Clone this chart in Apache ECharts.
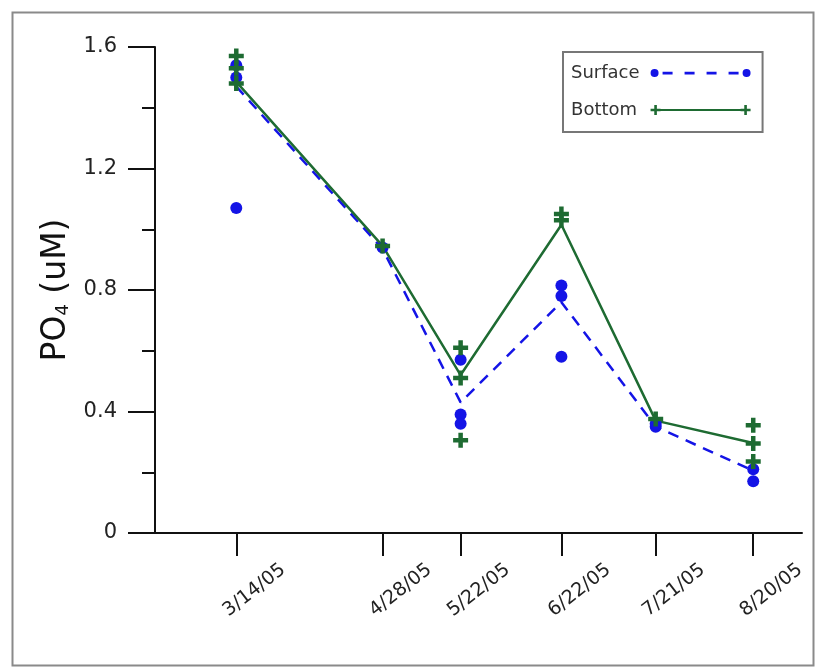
<!DOCTYPE html>
<html>
<head>
<meta charset="utf-8">
<script src="https://cdn.jsdelivr.net/npm/echarts@6/dist/echarts.min.js"></script>
<style>
  html, body { margin: 0; padding: 0; background: #fff; }
  #chart { width: 819px; height: 670px; }
</style>
</head>
<body>
<div id="chart"></div>
<script>
// Sampling dates (month is 1-based here)
const sampleDates = [[2005, 3, 14], [2005, 4, 28], [2005, 5, 22], [2005, 6, 22], [2005, 7, 21], [2005, 8, 20]];
const dateLabels = ['3/14/05', '4/28/05', '5/22/05', '6/22/05', '7/21/05', '8/20/05'];

// PO4 (uM) trend lines
const surfaceLine = [1.47, 0.935, 0.43, 0.76, 0.35, 0.205];
const bottomLine  = [1.485, 0.945, 0.52, 1.015, 0.37, 0.296];

// Individual samples per date
const surfaceSamples = [
  [1.54, 1.50, 1.07],
  [0.94],
  [0.57, 0.39, 0.36],
  [0.815, 0.78, 0.58],
  [0.35, 0.36],
  [0.21, 0.17]
];
const bottomSamples = [
  [1.57, 1.53, 1.48],
  [0.945],
  [0.61, 0.51, 0.305],
  [1.05, 1.03],
  [0.375],
  [0.355, 0.295, 0.235]
];

// Axis range and ticks
const yTicks = [0, 0.4, 0.8, 1.2, 1.6];
const xRange = [[2005, 2, 17], [2005, 9, 4]];

// day number since 2005-01-01 (UTC based, no DST issues)
const DAY = 86400000;
const dayNum = d => Math.round((Date.UTC(d[0], d[1] - 1, d[2]) - Date.UTC(2005, 0, 1)) / DAY);
const days = sampleDates.map(dayNum);

const pairLine = vals => vals.map((v, i) => [days[i], v]);
const pairSamples = groups => {
  const out = [];
  groups.forEach((g, i) => g.forEach(v => out.push([days[i], v])));
  return out;
};

const BLUE = '#1414e6';
const GREEN = '#1e6b32';
const FONT = 'DejaVu Sans, Liberation Sans, sans-serif';

const plusPath = 'path://M3.5,0 h3 v3.5 h3.5 v3 h-3.5 v3.5 h-3 v-3.5 h-3.5 v-3 h3.5 Z';

function circ(cx, cy, r) {
  return 'M' + (cx - r) + ',' + cy + ' a' + r + ',' + r + ' 0 1,0 ' + (2 * r) + ',0 a' + r + ',' + r + ' 0 1,0 ' + (-2 * r) + ',0 Z ';
}
function plus(cx, cy, a, t) {
  const h = t / 2;
  return 'M' + (cx - h) + ',' + (cy - a) + ' h' + t + ' v' + (a - h) + ' h' + (a - h) + ' v' + t +
    ' h' + (-(a - h)) + ' v' + (a - h) + ' h' + (-t) + ' v' + (-(a - h)) + ' h' + (-(a - h)) +
    ' v' + (-t) + ' h' + (a - h) + ' Z ';
}
// legend samples: marker, line, marker
const surfaceIcon = 'path://' + circ(4, 5, 4) +
  'M12,3.8 h10 v2.6 h-10 Z M34,3.8 h10 v2.6 h-10 Z M56,3.8 h10 v2.6 h-10 Z M78,3.8 h10 v2.6 h-10 Z ' +
  circ(96, 5, 4);
const bottomIcon = 'path://' + plus(5, 5, 5, 2.6) + 'M9,4 h82 v2 h-82 Z ' + plus(95, 5, 5, 2.6);

const chart = echarts.init(document.getElementById('chart'), null, { renderer: 'canvas' });

chart.setOption({
  animation: false,
  backgroundColor: '#fff',
  textStyle: { fontFamily: FONT },
  graphic: [{
    type: 'rect',
    left: 10, top: 10,
    shape: { width: 801, height: 653 },
    style: { fill: 'none', stroke: '#8a8a8a', lineWidth: 2 },
    silent: true
  }],
  grid: { left: 155, right: 17, top: 47, bottom: 137 },
  legend: {
    orient: 'vertical',
    left: 563, top: 52,
    align: 'right',
    itemWidth: 100, itemHeight: 10,
    itemGap: 19,
    padding: [12, 12, 13, 8],
    borderColor: '#777', borderWidth: 2,
    textStyle: { fontSize: 18, color: '#333', padding: [0, 6, 0, 0] },
    data: [
      { name: 'Surface', icon: surfaceIcon },
      { name: 'Bottom', icon: bottomIcon, textStyle: { padding: [0, 8.5, 0, 0] } }
    ]
  },
  xAxis: {
    type: 'value',
    min: dayNum(xRange[0]),
    max: dayNum(xRange[1]),
    splitLine: { show: false },
    axisLine: { lineStyle: { color: '#111', width: 2 } },
    axisTick: {
      show: true, length: 23, inside: false,
      customValues: days,
      lineStyle: { color: '#111', width: 2 }
    },
    axisLabel: {
      customValues: days,
      formatter: v => dateLabels[days.indexOf(v)] || '',
      rotate: 38,
      align: 'center',
      verticalAlign: 'top',
      margin: 34,
      padding: [20, 0, 0, 0],
      fontSize: 19,
      color: '#222'
    }
  },
  yAxis: {
    type: 'value',
    min: yTicks[0], max: yTicks[yTicks.length - 1], interval: 0.4,
    splitLine: { show: false },
    axisLine: { show: true, lineStyle: { color: '#111', width: 2 } },
    axisTick: { show: true, length: 27, lineStyle: { color: '#111', width: 2 } },
    minorTick: { show: true, splitNumber: 2, length: 13, lineStyle: { color: '#111', width: 2 } },
    axisLabel: { margin: 38, fontSize: 21, color: '#222' },
    name: '{a|PO}{s|4}{a| (uM)}',
    nameLocation: 'middle',
    nameRotate: 90,
    nameGap: 74,
    nameTextStyle: {
      rich: {
        a: { fontSize: 33, color: '#111' },
        s: { fontSize: 18, color: '#111', verticalAlign: 'bottom', padding: [15, 0, 0, 0] }
      }
    }
  },
  series: [
    {
      name: 'Surface', type: 'line',
      data: pairLine(surfaceLine),
      showSymbol: false, symbol: 'none',
      itemStyle: { color: BLUE },
      lineStyle: { color: BLUE, width: 2.5, type: [11, 8] },
      z: 2
    },
    {
      name: 'Bottom', type: 'line',
      data: pairLine(bottomLine),
      showSymbol: false, symbol: 'none',
      itemStyle: { color: GREEN },
      lineStyle: { color: GREEN, width: 2.5 },
      z: 3
    },
    {
      name: 'Surface', type: 'scatter',
      data: pairSamples(surfaceSamples),
      symbol: 'circle', symbolSize: 12,
      itemStyle: { color: BLUE, opacity: 1 },
      z: 4
    },
    {
      name: 'Bottom', type: 'scatter',
      data: pairSamples(bottomSamples),
      symbol: plusPath, symbolSize: 15,
      itemStyle: { color: GREEN, opacity: 1 },
      z: 5
    }
  ]
});
</script>
</body>
</html>
